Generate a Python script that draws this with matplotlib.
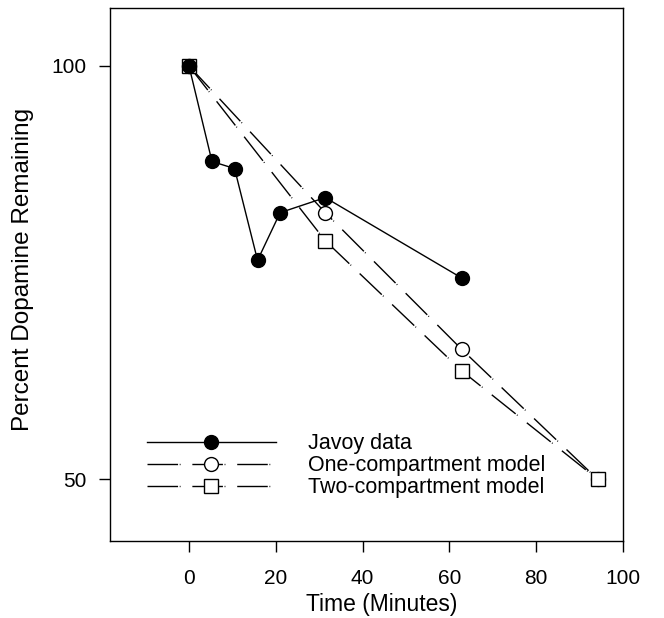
import matplotlib
matplotlib.use("Agg")
import matplotlib.pyplot as plt

plt.rcParams['font.family'] = ['Liberation Sans', 'DejaVu Sans']
plt.rcParams['lines.scale_dashes'] = False

# Data (x positions read against the axis ticks)
javoy_t = [0, 5.3, 10.5, 15.8, 21.0, 31.4, 62.8]
javoy_v = [100, 85.2, 84.2, 72.2, 78.2, 80.2, 70.1]

one_t = [0, 31.4, 62.8, 94.2]
one_v = [100, 78.2, 62.2, 50.0]

two_t = [0, 31.4, 62.8, 94.2]
two_v = [100, 74.6, 60.0, 50.0]

xticks = [0, 20, 40, 60, 80, 100]
yticks = [50, 100]

fig = plt.figure(figsize=(6.64, 6.18), dpi=100)
ax = fig.add_axes([110/664, 1-541/618, (623-110)/664, (541-8)/618])

dash = (0, (22, 1.2, 0.6, 8.5))
ax.plot(javoy_t, javoy_v, '-', color='black', lw=1.0, marker='o', ms=10,
        mfc='black', mec='black', label='Javoy data', zorder=3)
ax.plot(one_t, one_v, color='black', lw=1.0, linestyle=dash, marker='o', ms=10,
        mfc='white', mec='black', mew=1.0, label='One-compartment model', zorder=2)
ax.plot(two_t, two_v, color='black', lw=1.0, linestyle=dash, marker='s', ms=10,
        mfc='white', mec='black', mew=1.0, label='Two-compartment model', zorder=2)

ax.set_yscale('log')
ax.set_ylim(45.1, 110.2)
ax.set_xlim(-18.2, 100)
ax.set_yticks(yticks)
ax.set_yticklabels([str(v) for v in yticks])
ax.yaxis.set_minor_locator(matplotlib.ticker.NullLocator())
ax.set_xticks(xticks)
ax.set_xticklabels([str(v) for v in xticks])

ax.tick_params(axis='x', direction='out', length=8, width=1, labelsize=15, pad=12)
ax.tick_params(axis='y', direction='out', length=8, width=1, labelsize=15, pad=9)
for s in ax.spines.values():
    s.set_linewidth(1.0)

ax.set_xlabel('Time (Minutes)', fontsize=16.5)
ax.xaxis.set_label_coords(0.53, -0.098)
ax.set_ylabel('Percent Dopamine Remaining', fontsize=17.5)
ax.yaxis.set_label_coords(-0.148, 0.51)

leg = ax.legend(loc='lower left', bbox_to_anchor=(0.055, 0.064), frameon=False,
                fontsize=15.5, handlelength=6.0, handletextpad=1.5,
                labelspacing=0.05, numpoints=1, borderaxespad=0)

fig.savefig('out.png', dpi=100)
